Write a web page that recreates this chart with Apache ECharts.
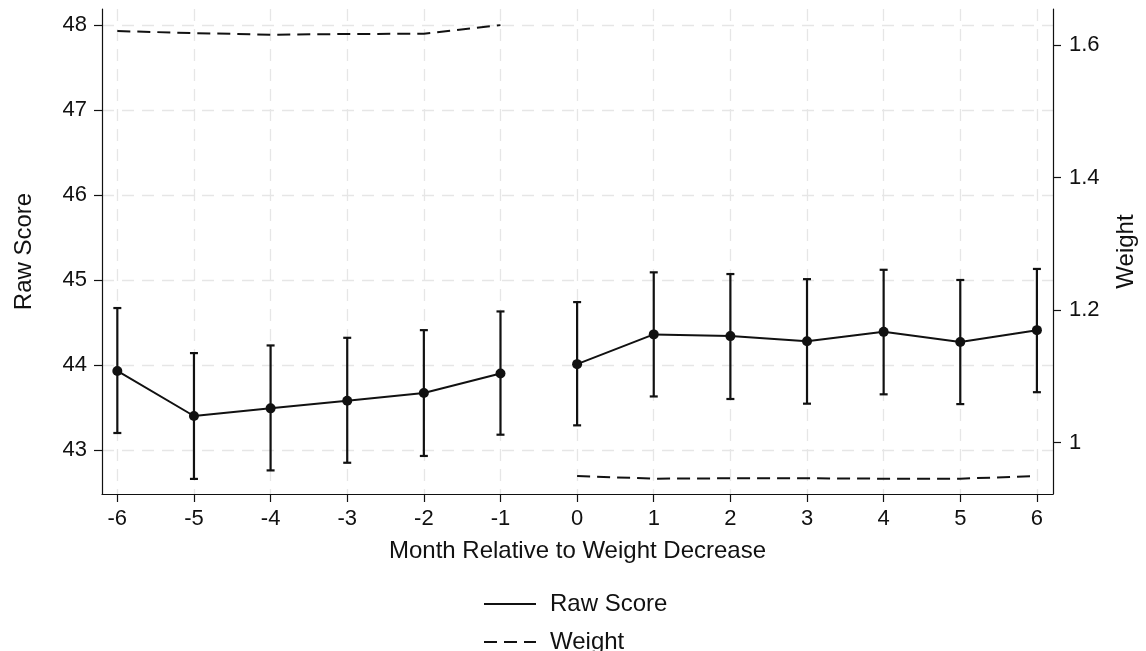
<!DOCTYPE html>
<html>
<head>
<meta charset="utf-8">
<script src="https://cdn.jsdelivr.net/npm/echarts@6/dist/echarts.min.js"></script>
<style>
  html, body { margin: 0; padding: 0; background: #fff; }
  #chart { width: 1146px; height: 651px; }
</style>
</head>
<body>
<div id="chart"></div>
<script>
// months relative to the weight decrease
const months = [-6, -5, -4, -3, -2, -1, 0, 1, 2, 3, 4, 5, 6];
// raw score point estimates and 95% interval ends
const rawScore = [43.93, 43.40, 43.49, 43.58, 43.67, 43.90, 44.01, 44.36, 44.34, 44.28, 44.39, 44.27, 44.41];
const ciLow = [43.20, 42.66, 42.76, 42.85, 42.93, 43.18, 43.29, 43.63, 43.60, 43.545, 43.655, 43.54, 43.68];
const ciHigh = [44.67, 44.14, 44.23, 44.32, 44.41, 44.63, 44.74, 45.09, 45.07, 45.01, 45.12, 45.00, 45.13];
// weight (right axis)
const weight = [1.621, 1.618, 1.6155, 1.6166, 1.617, 1.630, 0.9494, 0.9454, 0.946, 0.946, 0.9454, 0.9454, 0.9494];
// tick labels
const xTicks = [-6, -5, -4, -3, -2, -1, 0, 1, 2, 3, 4, 5, 6];
const leftTicks = [43, 44, 45, 46, 47, 48];
const rightTicks = [1, 1.2, 1.4, 1.6];
// lines are broken between these two months
const breakAfter = -1;

const font = 'Liberation Sans, Arial, sans-serif';
const ink = '#111';

// put a blank point in the gap so the line breaks there
function withBreak(vals) {
    const out = [];
    months.forEach((m, i) => {
        out.push([m, vals[i]]);
        if (m === breakAfter) out.push([m + 0.5, '-']);
    });
    return out;
}

const chart = echarts.init(document.getElementById('chart'));

const gridLine = { show: true, lineStyle: { color: '#e6e6e6', width: 1.3, type: [12, 8] } };
const axisLine = { show: true, onZero: false, lineStyle: { color: ink, width: 1.2 } };
const tick = (vals) => ({ show: true, length: 8, customValues: vals, lineStyle: { color: ink, width: 1.2 } });
const titleText = { color: ink, fontSize: 24, fontFamily: font };
const legendBase = {
    orient: 'vertical',
    left: 478,
    itemWidth: 52,
    itemHeight: 20,
    itemStyle: { opacity: 0 },
    textStyle: { color: ink, fontSize: 24, fontFamily: font, padding: [0, 0, 0, 9] }
};

chart.setOption({
    animation: false,
    textStyle: { fontFamily: font },
    grid: { left: 102, top: 9, width: 951, height: 485, containLabel: false },
    xAxis: {
        type: 'value',
        min: -6.2,
        max: 6.21,
        name: 'Month Relative to Weight Decrease',
        nameLocation: 'middle',
        nameGap: 45,
        nameTextStyle: titleText,
        axisLine: axisLine,
        axisTick: tick(xTicks),
        axisLabel: { customValues: xTicks, color: ink, fontSize: 22, margin: 14, fontFamily: font },
        splitLine: gridLine
    },
    yAxis: [
        {
            type: 'value',
            position: 'left',
            min: 42.4824,
            max: 48.188,
            name: 'Raw Score',
            nameLocation: 'middle',
            nameGap: 66,
            nameTextStyle: titleText,
            axisLine: axisLine,
            axisTick: tick(leftTicks),
            axisLabel: { customValues: leftTicks, color: ink, fontSize: 22, margin: 15, fontFamily: font },
            splitLine: gridLine
        },
        {
            type: 'value',
            position: 'right',
            min: 0.92226,
            max: 1.65434,
            name: 'Weight',
            nameLocation: 'middle',
            nameGap: 61,
            nameTextStyle: titleText,
            axisLine: axisLine,
            axisTick: tick(rightTicks),
            axisLabel: { customValues: rightTicks, color: ink, fontSize: 22, margin: 16, fontFamily: font },
            splitLine: { show: false }
        }
    ],
    legend: [
        Object.assign({}, legendBase, { top: 587, data: ['Raw Score'] }),
        Object.assign({}, legendBase, { top: 625, data: ['Weight'] })
    ],
    series: [
        {
            name: 'Raw Score',
            type: 'line',
            yAxisIndex: 0,
            symbol: 'none',
            connectNulls: false,
            lineStyle: { color: ink, width: 2 },
            itemStyle: { color: ink },
            data: withBreak(rawScore),
            z: 3
        },
        {
            name: 'Raw Score CI',
            type: 'custom',
            yAxisIndex: 0,
            data: months.map((m, i) => [m, ciLow[i], ciHigh[i], rawScore[i]]),
            renderItem: function (params, api) {
                const x = api.value(0);
                const lo = api.coord([x, api.value(1)]);
                const hi = api.coord([x, api.value(2)]);
                const pt = api.coord([x, api.value(3)]);
                const cap = 4;
                const st = { stroke: ink, lineWidth: 2.2 };
                return {
                    type: 'group',
                    children: [
                        { type: 'line', shape: { x1: lo[0], y1: lo[1], x2: hi[0], y2: hi[1] }, style: st },
                        { type: 'line', shape: { x1: lo[0] - cap, y1: lo[1], x2: lo[0] + cap, y2: lo[1] }, style: st },
                        { type: 'line', shape: { x1: hi[0] - cap, y1: hi[1], x2: hi[0] + cap, y2: hi[1] }, style: st },
                        { type: 'circle', shape: { cx: pt[0], cy: pt[1], r: 5 }, style: { fill: ink } }
                    ]
                };
            },
            z: 4
        },
        {
            name: 'Weight',
            type: 'line',
            yAxisIndex: 1,
            symbol: 'none',
            connectNulls: false,
            lineStyle: { color: ink, width: 2, type: [13, 7] },
            itemStyle: { color: ink },
            data: withBreak(weight),
            z: 3
        }
    ]
});
</script>
</body>
</html>
